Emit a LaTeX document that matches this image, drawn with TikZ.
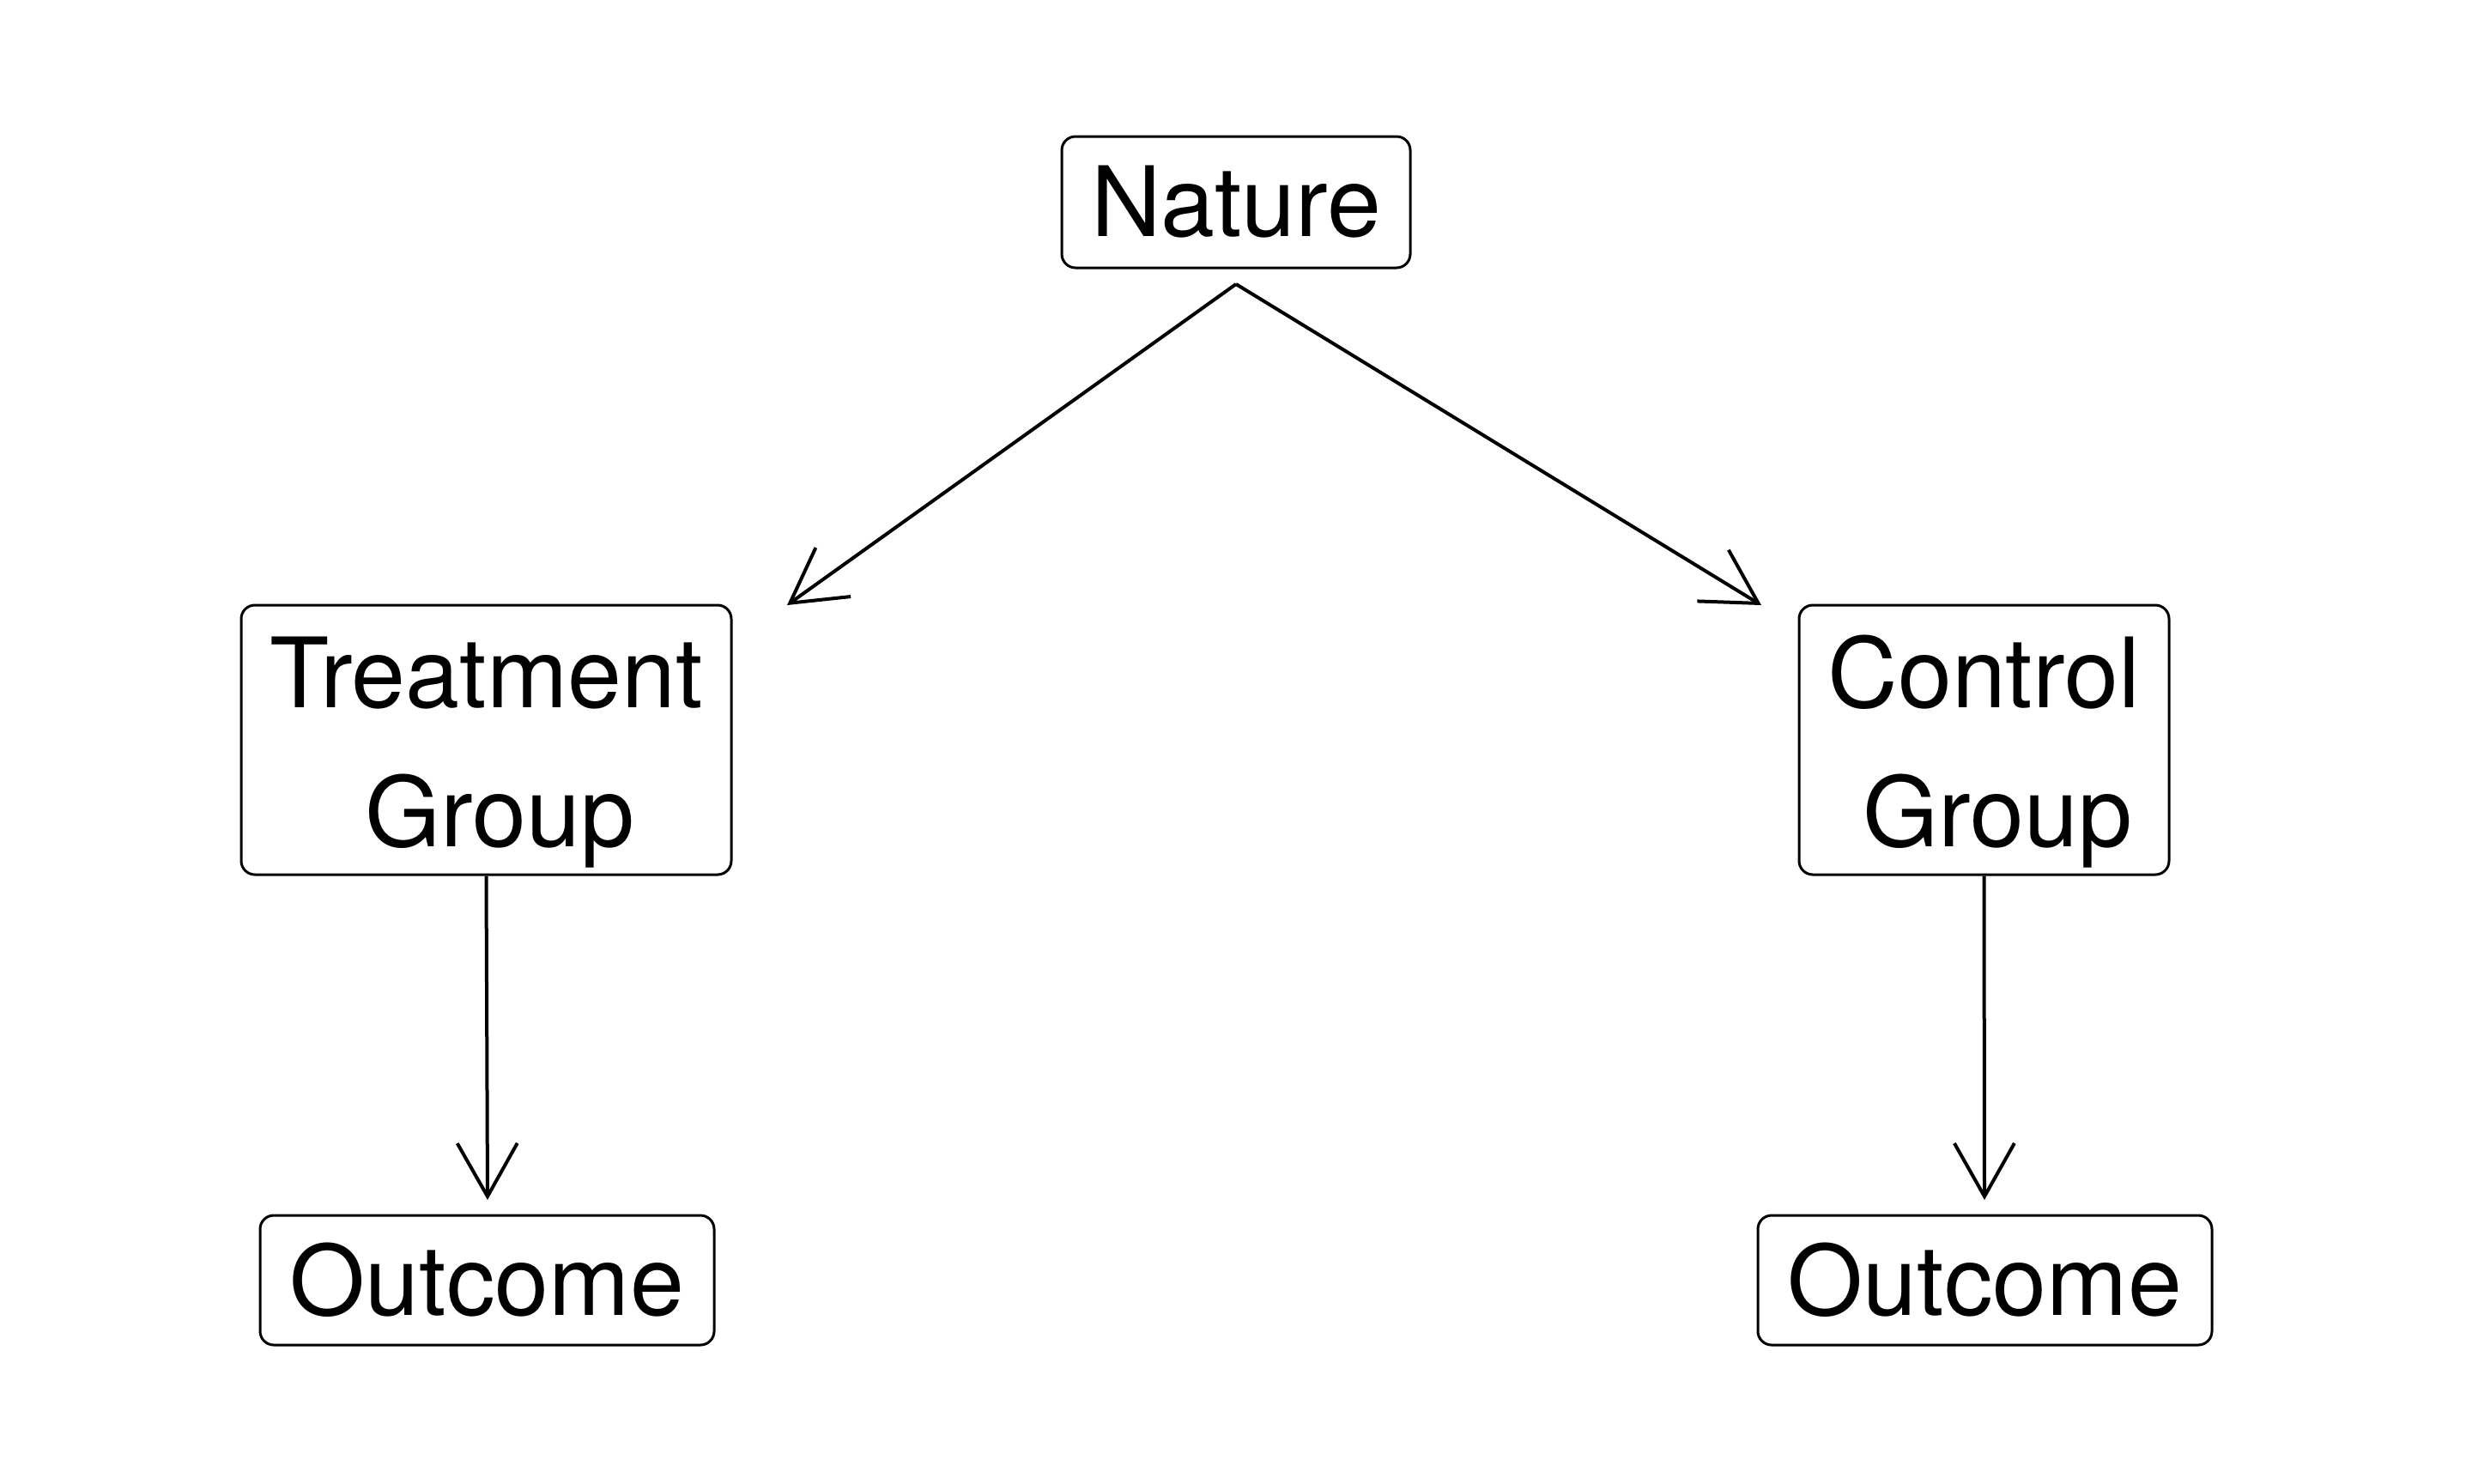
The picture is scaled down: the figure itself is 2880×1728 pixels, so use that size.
\documentclass[tikz,border=0pt]{standalone}
\usepackage{fontspec}
\setmainfont{TeX Gyre Heros}
\usetikzlibrary{arrows.meta}
\begin{document}
\begin{tikzpicture}[x=0.25pt,y=-0.25pt,
  box/.style={draw, line width=0.75pt, rounded corners=4pt, inner sep=0pt, align=center,
    font=\fontsize{28.3}{40.4}\selectfont},
  arr/.style={line width=1pt, -{Straight Barb[length=15.5pt,width=17.5pt,line width=1pt]}}]
\useasboundingbox (0,0) rectangle (2880,1728);
\node[box, minimum width=101.5pt, minimum height=38.25pt] (nature) at (1440,235.5) {Nature};
\node[box, minimum width=142.75pt, minimum height=78.5pt] (treat) at (566.5,862) {\rule{0pt}{28pt}Treatment\\\hspace*{0.278em}Group};
\node[box, minimum width=107.75pt, minimum height=78.5pt] (control) at (2311.5,862) {\rule{0pt}{28pt}Control\\\hspace*{0.278em}Group};
\node[box, minimum width=132.25pt, minimum height=37.75pt] (outl) at (567.5,1491.5) {Outcome};
\node[box, minimum width=132.25pt, minimum height=37.75pt] (outr) at (2312.5,1491.5) {Outcome};
\coordinate (ns) at (1440,331);
\coordinate (te) at (917,705);
\coordinate (ce) at (2052,705);
\coordinate (ole) at (568,1398);
\coordinate (ore) at (2312,1398);
\draw[arr] (ns) -- (te);
\draw[arr] (ns) -- (ce);
\draw[arr] (treat.south) -- (ole);
\draw[arr] (control.south) -- (ore);
\end{tikzpicture}
\end{document}
